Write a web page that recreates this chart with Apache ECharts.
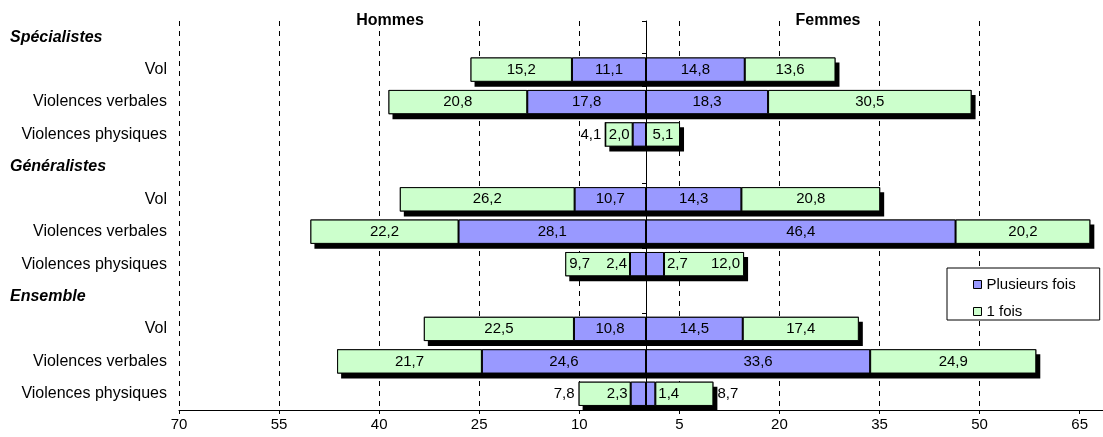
<!DOCTYPE html>
<html>
<head>
<meta charset="utf-8">
<script src="https://cdn.jsdelivr.net/npm/echarts@6/dist/echarts.min.js"></script>
<style>
  html, body { margin: 0; padding: 0; background: #fff; }
  #chart { width: 1103px; height: 437px; }
</style>
</head>
<body>
<div id="chart"></div>
<script>
// Groupes de médecins et types d'agression
const groups = ['Spécialistes', 'Généralistes', 'Ensemble'];
const categories = ['Vol', 'Violences verbales', 'Violences physiques'];

// Valeurs (%) dans l'ordre groupe x catégorie
const hommesPlusieurs = [11.1, 17.8, 2.0, 10.7, 28.1, 2.4, 10.8, 24.6, 2.3];
const hommesUneFois   = [15.2, 20.8, 4.1, 26.2, 22.2, 9.7, 22.5, 21.7, 7.8];
const femmesPlusieurs = [14.8, 18.3, 0.0, 14.3, 46.4, 2.7, 14.5, 33.6, 1.4];
const femmesUneFois   = [13.6, 30.5, 5.1, 20.8, 20.2, 12.0, 17.4, 24.9, 8.7];

// Graduations de l'axe horizontal (affichées en valeur absolue)
const xTicks = [-70, -55, -40, -25, -10, 5, 20, 35, 50, 65];

const seriesNames = { plus: 'Plusieurs fois', once: '1 fois' };
const FONT = 'Liberation Sans, Arial, sans-serif';

// Lignes de l'axe vertical : un en-tête par groupe suivi des catégories
const rows = [];
groups.forEach(g => { rows.push(g); categories.forEach(c => rows.push(c)); });

const fmt = v => Math.abs(v).toFixed(1).replace('.', ',');

// Étiquettes : un petit segment "plusieurs fois" reporte son étiquette dans
// le segment voisin, qui place alors la sienne à son extrémité ou au-delà.
const SMALL = 3, ROOM = 9;
function labelFor(side, kind, plus, once) {
  const outer = side === 'H' ? 'left' : 'right';
  const innerFar = side === 'H' ? 'insideLeft' : 'insideRight';
  if (kind === 'plus') {
    if (plus === 0) return { show: false };
    if (plus < SMALL) return { position: outer, distance: 3 };
    return { position: 'inside' };
  }
  if (plus > 0 && plus < SMALL) {
    return once >= ROOM ? { position: innerFar, distance: 4 } : { position: outer, distance: 4 };
  }
  return { position: 'inside' };
}

function buildItems(side, kind) {
  const plusArr = side === 'H' ? hommesPlusieurs : femmesPlusieurs;
  const onceArr = side === 'H' ? hommesUneFois : femmesUneFois;
  const sign = side === 'H' ? -1 : 1;
  const out = [];
  groups.forEach((g, gi) => {
    out.push(null);
    categories.forEach((c, ci) => {
      const i = gi * categories.length + ci;
      const v = kind === 'plus' ? plusArr[i] : onceArr[i];
      out.push({ value: sign * v, label: labelFor(side, kind, plusArr[i], onceArr[i]) });
    });
  });
  return out;
}

function buildTotals(side) {
  const plusArr = side === 'H' ? hommesPlusieurs : femmesPlusieurs;
  const onceArr = side === 'H' ? hommesUneFois : femmesUneFois;
  const sign = side === 'H' ? -1 : 1;
  const out = [];
  groups.forEach((g, gi) => {
    out.push(null);
    categories.forEach((c, ci) => {
      const i = gi * categories.length + ci;
      out.push(sign * (plusArr[i] + onceArr[i]));
    });
  });
  return out;
}

const barCommon = {
  type: 'bar',
  barGap: '-100%',
  barCategoryGap: '25%'
};

const shadowStyle = {
  color: '#000',
  shadowColor: '#000',
  shadowBlur: 0,
  shadowOffsetX: 4,
  shadowOffsetY: 5
};

function mainSeries(side, kind) {
  return Object.assign({}, barCommon, {
    name: seriesNames[kind],
    stack: 'valeurs',
    z: 3,
    data: buildItems(side, kind),
    itemStyle: {
      color: kind === 'plus' ? '#9999FF' : '#CCFFCC',
      borderColor: '#000',
      borderWidth: 1
    },
    label: {
      show: true,
      color: '#000',
      fontSize: 15,
      fontFamily: FONT,
      formatter: p => fmt(p.value)
    }
  });
}

const chart = echarts.init(document.getElementById('chart'), null, { renderer: 'canvas' });

chart.setOption({
  animation: false,
  backgroundColor: '#fff',
  textStyle: { fontFamily: FONT },
  grid: { left: 179, right: 0, top: 21, bottom: 27, containLabel: false },
  legend: {
    data: ['Plusieurs fois', '1 fois'],
    orient: 'vertical',
    left: 947,
    top: 268,
    padding: [8, 24, 0, 26],
    itemWidth: 8,
    itemHeight: 8,
    itemGap: 10,
    itemTextGap: 6,
    icon: 'rect',
    backgroundColor: '#fff',
    borderColor: '#000',
    borderWidth: 1,
    borderRadius: 0,
    itemStyle: { borderColor: '#000', borderWidth: 1 },
    textStyle: { color: '#000', fontSize: 15, fontFamily: FONT, lineHeight: 17 },
    z: 20
  },
  graphic: [
    { type: 'text', x: 390, y: 21, z: 20,
      style: { text: 'Hommes', font: 'bold 16px ' + FONT, fill: '#000', textAlign: 'center', textVerticalAlign: 'middle' } },
    { type: 'text', x: 828, y: 21, z: 20,
      style: { text: 'Femmes', font: 'bold 16px ' + FONT, fill: '#000', textAlign: 'center', textVerticalAlign: 'middle' } }
  ],
  xAxis: {
    type: 'value',
    min: -70,
    max: 68.5,
    interval: 15,
    axisLine: { show: true, onZero: false, lineStyle: { color: '#000', width: 1 } },
    axisTick: { show: true, length: 4, customValues: xTicks, lineStyle: { color: '#000' } },
    axisLabel: {
      customValues: xTicks,
      color: '#000',
      fontSize: 15,
      fontFamily: FONT,
      margin: 7,
      formatter: v => String(Math.abs(v))
    },
    splitLine: {
      show: true,
      showMaxLine: false,
      lineStyle: { color: '#000', width: 1, type: [5, 5] }
    }
  },
  yAxis: [
    {
      type: 'category',
      data: rows,
      inverse: true,
      position: 'left',
      axisLine: { show: false, onZero: false },
      axisTick: { show: false },
      splitLine: { show: false },
      axisLabel: {
        interval: 0,
        margin: 12,
        color: '#000',
        fontSize: 16,
        fontFamily: FONT,
        formatter: v => groups.includes(v) ? '{h|' + v + '}' : v,
        rich: {
          h: {
            fontWeight: 'bold',
            fontStyle: 'italic',
            fontSize: 16,
            fontFamily: FONT,
            color: '#000',
            width: 157,
            align: 'left'
          }
        }
      }
    },
    {
      // axe central (zéro) avec ses graduations
      type: 'category',
      data: rows,
      inverse: true,
      position: 'left',
      z: 10,
      axisLine: { show: true, onZero: true, onZeroAxisIndex: 0, lineStyle: { color: '#000', width: 1 } },
      axisTick: { show: true, length: 4, lineStyle: { color: '#000' } },
      axisLabel: { show: false },
      splitLine: { show: false }
    }
  ],
  series: [
    Object.assign({}, barCommon, { name: 'ombre H', stack: 'ombre', z: 2, silent: true, data: buildTotals('H'), itemStyle: shadowStyle }),
    Object.assign({}, barCommon, { name: 'ombre F', stack: 'ombre', z: 2, silent: true, data: buildTotals('F'), itemStyle: shadowStyle }),
    mainSeries('H', 'plus'),
    mainSeries('H', 'once'),
    mainSeries('F', 'plus'),
    mainSeries('F', 'once')
  ]
});
</script>
</body>
</html>
